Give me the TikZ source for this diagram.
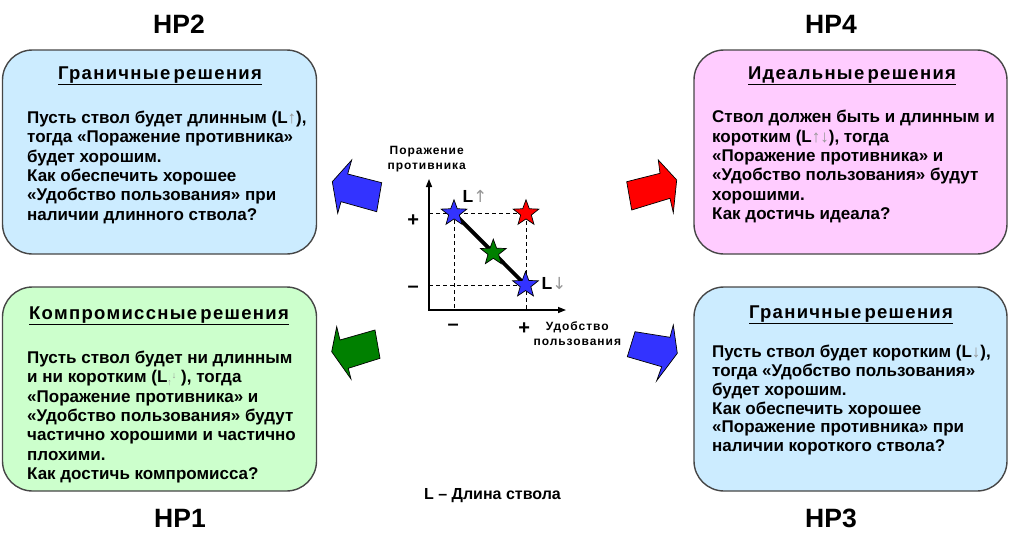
\documentclass[tikz,border=0pt]{standalone}
\usepackage{fontspec}
\setmainfont{Liberation Sans}
\newfontfamily\titlefamily{Liberation Sans}[LetterSpace=7,WordSpace=0.5]
\usetikzlibrary{shapes.geometric,arrows.meta,backgrounds}
\definecolor{boxblue}{RGB}{204,236,255}
\definecolor{boxgreen}{RGB}{204,255,204}
\definecolor{boxpink}{RGB}{255,204,255}
\definecolor{arrblue}{RGB}{51,51,255}
\definecolor{arrred}{RGB}{255,0,0}
\definecolor{arrgreen}{RGB}{0,128,0}
\definecolor{edgegray}{RGB}{70,70,70}
\definecolor{arrowgray}{RGB}{150,150,150}
\newcommand\myup{{\color{arrowgray}\fontseries{m}\selectfont ↑}}
\newcommand\mydown{{\color{arrowgray}\fontseries{m}\selectfont ↓}}
\newcommand\bodyfont{\fontsize{17}{19.4}\selectfont\bfseries}
\begin{document}
\begin{tikzpicture}[x=1pt,y=-1pt,
  panel/.style={draw=edgegray, line width=1.4pt, rounded corners=30pt,
    minimum width=314pt, minimum height=204pt, inner sep=0pt},
  hplabel/.style={font=\fontsize{26.5}{30}\selectfont\bfseries, anchor=base, inner sep=0pt},
  paneltitle/.style={font=\titlefamily\fontsize{18.5}{20}\selectfont\bfseries, anchor=base, inner sep=0pt},
  bodytext/.style={font=\bodyfont, anchor=base west, inner sep=0pt},
  axislabel/.style={font=\fontsize{12}{15}\selectfont\bfseries\addfontfeature{LetterSpace=8}, align=center, inner sep=0pt, anchor=base},
  sign/.style={font=\fontsize{20}{20}\selectfont\bfseries, inner sep=0pt},
  starmark/.style={star, star points=5, star point ratio=2.4, minimum size=27pt,
    inner sep=0pt, draw=black, line width=0.7pt},
  blockarrow/.style={draw=black, line width=0.7pt, line join=miter},
  dashline/.style={dashed, dash pattern=on 4pt off 3pt, line width=0.8pt},
  axisline/.style={line width=1.4pt, arrows={Triangle[length=8pt,width=6pt]-Triangle[length=8pt,width=6pt]}}
]
\useasboundingbox (0,0) rectangle (1010,538);

% panels
\node[panel, fill=boxblue]  (p2) at (159.5,152) {};
\node[panel, fill=boxgreen] (p1) at (159.5,389) {};
\node[panel, fill=boxpink, minimum width=313pt]  (p4) at (850.5,152) {};
\node[panel, fill=boxblue, minimum width=313pt]  (p3) at (850.5,389) {};

% HP labels
\node[hplabel] (hp2) at (179,33) {HP2};
\node[hplabel] (hp4) at (831,33) {HP4};
\node[hplabel] (hp1) at (180,527) {HP1};
\node[hplabel] (hp3) at (831,527) {HP3};

% panel titles
\node[paneltitle] (t2) at (160,79.3) {\underline{Граничные решения}};
\node[paneltitle] (t1) at (159,319.3) {\underline{Компромиссные решения}};
\node[paneltitle] (t4) at (852,79.3) {\underline{Идеальные решения}};
\node[paneltitle] (t3) at (851,318.3) {\underline{Граничные решения}};

% panel bodies
\node[bodytext] (b2) at (27,123.3) {\begin{tabular}[t]{@{}l@{}}
Пусть ствол будет длинным (L\myup),\\
тогда «Поражение противника»\\
будет хорошим.\\
Как обеспечить хорошее\\
«Удобство пользования» при\\
наличии длинного ствола?
\end{tabular}};
\node[bodytext] (b1) at (27,363.3) {\begin{tabular}[t]{@{}l@{}}
Пусть ствол будет ни длинным\\
и ни коротким (L\raisebox{-3pt}{\fontsize{9}{9}\selectfont\myup}\raisebox{4pt}{\fontsize{9}{9}\selectfont\mydown}~),~тогда\\
«Поражение противника» и\\
«Удобство пользования» будут\\
частично хорошими и частично\\
плохими.\\
Как достичь компромисса?
\end{tabular}};
\node[bodytext] (b4) at (712,122.7) {\begin{tabular}[t]{@{}l@{}}
Ствол должен быть и длинным и\\
коротким (L\myup\mydown), тогда\\
«Поражение противника» и\\
«Удобство пользования» будут\\
хорошими.\\
Как достичь идеала?
\end{tabular}};
\node[bodytext, font=\fontsize{17}{18.9}\selectfont\bfseries] (b3) at (712,357.3) {\begin{tabular}[t]{@{}l@{}}
Пусть ствол будет коротким (L\mydown),\\
тогда «Удобство пользования»\\
будет хорошим.\\
Как обеспечить хорошее\\
«Поражение противника» при\\
наличии короткого ствола?
\end{tabular}};

% block arrows
\filldraw[blockarrow, fill=arrblue] (332.3,181.7) -- (351.7,160) -- (347.7,174) -- (381.7,182.7) -- (376.7,211.7) -- (341,201.7) -- (337.7,213.3) -- cycle;
\filldraw[blockarrow, fill=arrgreen] (331.7,351.7) -- (336.7,326.7) -- (340,340) -- (375,330) -- (380,358.3) -- (348.3,368.3) -- (351,379) -- cycle;
\filldraw[blockarrow, fill=arrred] (626.7,181.7) -- (660,173.3) -- (658.3,160) -- (676.7,180) -- (673.3,212.7) -- (670,198.3) -- (631.7,210) -- cycle;
\filldraw[blockarrow, fill=arrblue] (635,331.7) -- (670,337.3) -- (673.3,325) -- (677.3,353.3) -- (656.7,380.7) -- (661.7,366.7) -- (627.3,356.7) -- cycle;

% central chart
\coordinate (O) at (429,310);
\coordinate (ytop) at (429,179);
\coordinate (xend) at (566,310);
\draw[axisline] (ytop) -- (O) -- (xend);

\node[starmark, fill=arrblue]  (s1) at (454,213.3) {};
\node[starmark, fill=arrred]   (s2) at (526,213.3) {};
\node[starmark, fill=arrgreen] (s3) at (493.3,252.7) {};
\node[starmark, fill=arrblue]  (s4) at (525.5,285) {};

\begin{pgfonlayer}{background}
\draw[dashline] (O |- s2.center) -- (s2.center) -- (s2.center |- O);
\draw[dashline] (s1.center) -- (s1.center |- O);
\draw[dashline] (O |- s4.center) -- (s4.center);
\draw[line width=3.8pt] (s1.center) -- (s4.center);
\end{pgfonlayer}

\node[axislabel] (ylab) at (426.7,169.3) {Поражение\\[-0.5pt]противника};
\node[axislabel] (xlab) at (577.3,345) {Удобство\\[-0.5pt]пользования};

\node[sign] (yplus) at (413.3,220.7) {+};
\node[sign] (yminus) at (413.3,289.3) {–};
\node[sign] (xminus) at (453.3,327.3) {–};
\node[sign] (xplus) at (524.3,329) {+};

\node[font=\fontsize{17.5}{20}\selectfont\bfseries, anchor=base west, inner sep=0pt] (lup) at (462.5,202.7) {L{\color{arrowgray}\fontseries{m}\selectfont\fontspec{DejaVu Sans}[Scale=0.95]↑}};
\node[font=\fontsize{17.5}{20}\selectfont\bfseries, anchor=base west, inner sep=0pt] (ldown) at (541.5,289.3) {L{\color{arrowgray}\fontseries{m}\selectfont\fontspec{DejaVu Sans}[Scale=0.95]↓}};

\node[font=\fontsize{16}{18}\selectfont\bfseries, anchor=base, inner sep=0pt] (legend) at (492.5,499.3) {L – Длина ствола};
\end{tikzpicture}
\end{document}
